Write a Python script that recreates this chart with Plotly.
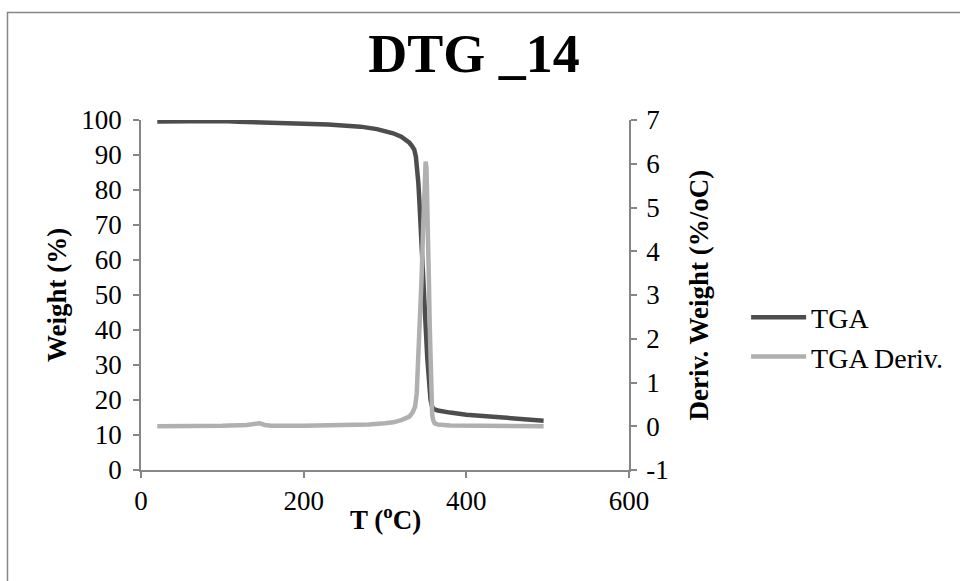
import plotly.graph_objects as go

# Thermogravimetric run: temperature (°C) and remaining weight (%)
tga_temp = [20, 40, 60, 80, 100, 120, 140, 150, 170, 200, 230, 250, 270, 290, 300,
            310, 320, 325, 330, 333, 336, 338, 340, 341, 342, 344, 346, 348, 350,
            352, 354, 356, 358, 360, 365, 370, 380, 400, 420, 440, 460, 480, 495]
tga_weight = [99.6, 99.7, 99.7, 99.7, 99.7, 99.5, 99.3, 99.1, 99.0, 98.9, 98.7, 98.5,
              98.1, 97.4, 96.9, 96.2, 95.2, 94.5, 93.5, 92.6, 91.5, 89.5, 86.0, 82.0,
              78.0, 70.0, 61.0, 51.0, 41.0, 32.0, 24.5, 20.0, 18.0, 17.4, 17.0, 16.7,
              16.4, 15.8, 15.4, 15.1, 14.8, 14.4, 14.1]

# Derivative of the weight curve (%/°C)
dtg_temp = [20, 60, 100, 130, 140, 146, 152, 160, 200, 250, 280, 300, 310, 320, 325,
            330, 334, 337, 339, 341, 343, 345, 347, 349, 350, 351, 352, 353, 354,
            355, 356, 357, 358, 359, 361, 365, 380, 420, 495]
dtg_value = [0.0, 0.0, 0.01, 0.03, 0.05, 0.07, 0.03, 0.01, 0.01, 0.02, 0.04, 0.07,
             0.09, 0.14, 0.18, 0.22, 0.32, 0.45, 0.75, 1.5, 2.4, 3.4, 4.6, 5.7, 6.05,
             5.9, 5.3, 4.3, 3.3, 2.3, 1.4, 0.55, 0.28, 0.15, 0.07, 0.04, 0.02, 0.01, 0.0]

# Tick labels for the derivative axis (plain hyphen for the negative value)
deriv_ticks = [-1, 0, 1, 2, 3, 4, 5, 6, 7]
deriv_ticktext = ["-1", "0", "1", "2", "3", "4", "5", "6", "7"]

FONT = "Liberation Serif"
AXIS_GREY = "#868686"

fig = go.Figure()
fig.add_trace(go.Scatter(x=tga_temp, y=tga_weight, mode="lines", name="TGA",
                         line=dict(color="#4d4d4d", width=4.5), yaxis="y"))
fig.add_trace(go.Scatter(x=dtg_temp, y=dtg_value, mode="lines", name="TGA Deriv.",
                         line=dict(color="#b0b0b0", width=4.5), yaxis="y2"))

tick_font = dict(family=FONT, size=27, color="black")
title_font = dict(family=FONT, size=27, color="black")

axis_common = dict(showgrid=False, zeroline=False, showline=True,
                   linecolor=AXIS_GREY, linewidth=1.5, ticks="outside", ticklen=6,
                   tickcolor=AXIS_GREY, tickwidth=1.5, tickfont=tick_font)

fig.update_layout(
    width=960, height=581,
    margin=dict(l=141, r=331, t=120, b=111),
    paper_bgcolor="white", plot_bgcolor="white",
    title=dict(text="<b>DTG _14</b>", font=dict(family=FONT, size=54, color="black"),
               x=474 / 960, xref="container", xanchor="center",
               y=1 - 53 / 581, yref="container", yanchor="middle"),
    xaxis=dict(range=[0, 600], dtick=200, tick0=0, **axis_common),
    yaxis=dict(range=[0, 100], dtick=10, tick0=0, ticklabelstandoff=6, **axis_common,
               title=dict(text="<b>Weight (%)</b>", font=title_font, standoff=7)),
    yaxis2=dict(range=[-1, 7], tickvals=deriv_ticks, ticktext=deriv_ticktext,
                overlaying="y", side="right", ticklabelstandoff=4, **axis_common,
                title=dict(text="<b>Deriv. Weight (%/oC)</b>", font=title_font, standoff=21)),
    legend=dict(x=1.24, y=0.38, xanchor="left", yanchor="middle",
                font=dict(family=FONT, size=28, color="black"),
                bgcolor="rgba(0,0,0,0)", itemwidth=55, tracegroupgap=0),
    annotations=[dict(text="<b>T (<sup>o</sup>C)</b>", xref="paper", yref="paper",
                      x=0.5, y=(470 - 518) / 350, xanchor="center", yanchor="middle",
                      showarrow=False, font=title_font)],
    shapes=[dict(type="rect", xref="paper", yref="paper",
                 x0=(7.5 - 141) / 488, x1=(980 - 141) / 488,
                 y0=(470 - 600) / 350, y1=(470 - 12.5) / 350,
                 line=dict(color=AXIS_GREY, width=1.5), fillcolor="rgba(0,0,0,0)",
                 layer="below")],
)

fig.write_html("out.html")
